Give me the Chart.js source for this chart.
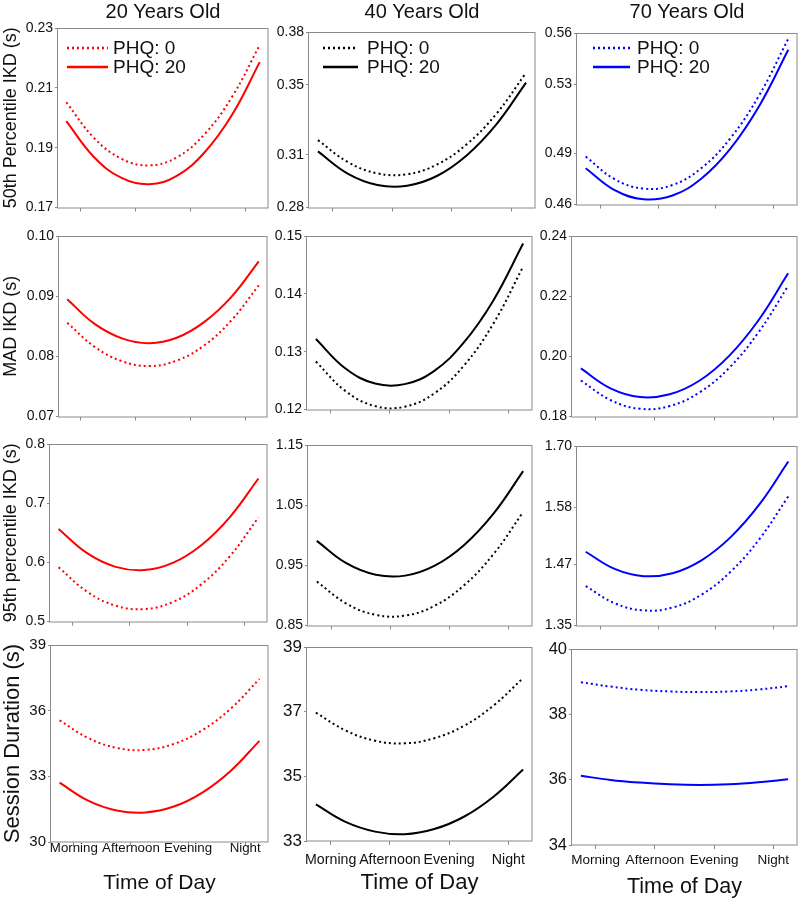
<!DOCTYPE html>
<html>
<head>
<meta charset="utf-8">
<script src="https://cdn.jsdelivr.net/npm/chart.js@4.4.1/dist/chart.umd.min.js"></script>
<style>
body { margin: 0; background: #fff; }
#wrap { position: relative; width: 800px; height: 902px; overflow: hidden; }
#wrap canvas { position: absolute; }
</style>
</head>
<body>
<div id="wrap"></div>
<script>
var timeLabels = ['Morning', 'Afternoon', 'Evening', 'Night'];
var timeX = [-0.25, 0.25, 0.75, 1.25, 1.75, 2.25, 2.75, 3.25];
var ageTitles = ['20 Years Old', '40 Years Old', '70 Years Old'];
var measureTitles = ['50th Percentile IKD (s)', 'MAD IKD (s)', '95th percentile IKD (s)', 'Session Duration (s)'];
var seriesNames = ['PHQ: 0', 'PHQ: 20'];
var ageColors = ['#ff0000', '#000000', '#0000ff'];

// 50th percentile IKD
var median20Phq0 = [0.2052, 0.1933, 0.1863, 0.1841, 0.1868, 0.1945, 0.2070, 0.2243];
var median20Phq20 = [0.1989, 0.1869, 0.1799, 0.1778, 0.1806, 0.1884, 0.2010, 0.2186];
var median40Phq0 = [0.3184, 0.3060, 0.2995, 0.2990, 0.3045, 0.3160, 0.3334, 0.3568];
var median40Phq20 = [0.3120, 0.2994, 0.2929, 0.2925, 0.2980, 0.3097, 0.3274, 0.3512];
var median70Phq0 = [0.4880, 0.4748, 0.4693, 0.4714, 0.4813, 0.4987, 0.5239, 0.5567];
var median70Phq20 = [0.4812, 0.4684, 0.4631, 0.4653, 0.4752, 0.4926, 0.5176, 0.5502];
// MAD IKD
var mad20Phq0 = [0.0856, 0.0816, 0.0792, 0.0784, 0.0793, 0.0818, 0.0860, 0.0918];
var mad20Phq20 = [0.0895, 0.0854, 0.0830, 0.0822, 0.0831, 0.0857, 0.0899, 0.0958];
var mad40Phq0 = [0.1283, 0.1232, 0.1206, 0.1205, 0.1228, 0.1276, 0.1349, 0.1447];
var mad40Phq20 = [0.1322, 0.1271, 0.1245, 0.1244, 0.1267, 0.1316, 0.1389, 0.1487];
var mad70Phq0 = [0.1920, 0.1855, 0.1826, 0.1835, 0.1880, 0.1961, 0.2080, 0.2234];
var mad70Phq20 = [0.1960, 0.1894, 0.1865, 0.1874, 0.1919, 0.2001, 0.2120, 0.2276];
// 95th percentile IKD
var p95_20Phq0 = [0.5919, 0.5505, 0.5269, 0.5211, 0.5331, 0.5629, 0.6105, 0.6759];
var p95_20Phq20 = [0.6566, 0.6157, 0.5925, 0.5870, 0.5992, 0.6290, 0.6765, 0.7417];
var p95_40Phq0 = [0.9232, 0.8867, 0.8678, 0.8666, 0.8830, 0.9172, 0.9691, 1.0387];
var p95_40Phq20 = [0.9908, 0.9536, 0.9344, 0.9330, 0.9496, 0.9840, 1.0364, 1.1067];
var p95_70Phq0 = [1.4271, 1.3936, 1.3797, 1.3852, 1.4102, 1.4547, 1.5185, 1.6018];
var p95_70Phq20 = [1.4939, 1.4604, 1.4464, 1.4520, 1.4772, 1.5219, 1.5861, 1.6699];
// session duration
var session20Phq0 = [35.56, 34.75, 34.30, 34.21, 34.48, 35.11, 36.10, 37.45];
var session20Phq20 = [32.71, 31.89, 31.44, 31.35, 31.62, 32.26, 33.26, 34.62];
var session40Phq0 = [36.97, 36.42, 36.10, 36.02, 36.18, 36.56, 37.19, 38.04];
var session40Phq20 = [34.13, 33.59, 33.29, 33.21, 33.37, 33.75, 34.37, 35.21];
var session70Phq0 = [38.98, 38.85, 38.75, 38.70, 38.68, 38.70, 38.76, 38.86];
var session70Phq20 = [36.12, 35.99, 35.91, 35.86, 35.84, 35.86, 35.92, 36.01];

// y tick labels (bottom to top)
var ticksMedian20 = ['0.17', '0.19', '0.21', '0.23'];
var ticksMedian40 = ['0.28', '0.31', '0.35', '0.38'];
var ticksMedian70 = ['0.46', '0.49', '0.53', '0.56'];
var ticksMad20 = ['0.07', '0.08', '0.09', '0.10'];
var ticksMad40 = ['0.12', '0.13', '0.14', '0.15'];
var ticksMad70 = ['0.18', '0.20', '0.22', '0.24'];
var ticksP95_20 = ['0.5', '0.6', '0.7', '0.8'];
var ticksP95_40 = ['0.85', '0.95', '1.05', '1.15'];
var ticksP95_70 = ['1.35', '1.47', '1.58', '1.70'];
var ticksSession20 = ['30', '33', '36', '39'];
var ticksSession40 = ['33', '35', '37', '39'];
var ticksSession70 = ['34', '36', '38', '40'];

var panelData = [
    [[median20Phq0, median20Phq20, ticksMedian20], [median40Phq0, median40Phq20, ticksMedian40], [median70Phq0, median70Phq20, ticksMedian70]],
    [[mad20Phq0, mad20Phq20, ticksMad20], [mad40Phq0, mad40Phq20, ticksMad40], [mad70Phq0, mad70Phq20, ticksMad70]],
    [[p95_20Phq0, p95_20Phq20, ticksP95_20], [p95_40Phq0, p95_40Phq20, ticksP95_40], [p95_70Phq0, p95_70Phq20, ticksP95_70]],
    [[session20Phq0, session20Phq20, ticksSession20], [session40Phq0, session40Phq20, ticksSession40], [session70Phq0, session70Phq20, ticksSession70]]
];

// plot boxes on the page: left, top, right, bottom
var plotAreas = [
    [[58, 28, 268, 208], [309, 32, 535, 208], [577, 33, 797, 205]],
    [[59, 236, 267, 417], [307, 236, 532, 410], [572, 236, 797, 417]],
    [[50, 444, 267, 622], [308, 445, 532, 626], [577, 446, 797, 626]],
    [[51, 645, 268, 842], [307, 647, 532, 841], [572, 649, 797, 845]]
];
var legendPlaces = [[9, 50, 55, 20, 39], [14, 49, 58, 16, 35], [16, 53, 60, 15, 34]];
var xLabelPad = [-4, 8, 5];
var xLabelSize = [13.3, 14.2, 13.5];
var xTitleSize = [21, 22, 21.5];
var xTitlePad = [6, 6, 2];
var bottomTickSize = [15, 17, 16.5];

Chart.defaults.font.family = '"Liberation Sans", Arial, sans-serif';
Chart.defaults.color = '#111';

var frameColor = '#8a8a8a';

var panelDeco = {
    id: 'panelDeco',
    beforeDatasetsDraw(chart) {
        var a = chart.chartArea, ctx = chart.ctx;
        ctx.save();
        ctx.strokeStyle = frameColor;
        ctx.lineWidth = 1;
        ctx.strokeRect(Math.round(a.left) - 0.5, Math.round(a.top) + 0.5, Math.round(a.right - a.left) + 0.5, Math.round(a.bottom - a.top) - 0.5);
        ctx.restore();
    },
    afterDraw(chart, args, opts) {
        var a = chart.chartArea, ctx = chart.ctx;
        if (!opts.title) return;
        ctx.save();
        ctx.fillStyle = '#111';
        ctx.textBaseline = 'middle';
        ctx.textAlign = 'center';
        ctx.font = '20px "Liberation Sans", Arial, sans-serif';
        ctx.fillText(opts.title, (a.left + a.right) / 2, 12);
        var lp = opts.legend;
        ctx.textAlign = 'left';
        ctx.font = '19px "Liberation Sans", Arial, sans-serif';
        chart.data.datasets.forEach(function (ds, i) {
            var y = a.top + (i === 0 ? lp[3] : lp[4]);
            ctx.strokeStyle = ds.borderColor;
            ctx.lineWidth = 2.5;
            ctx.setLineDash(ds.borderDash || []);
            ctx.beginPath();
            ctx.moveTo(a.left + lp[0], y);
            ctx.lineTo(a.left + lp[1], y);
            ctx.stroke();
            ctx.setLineDash([]);
            ctx.fillText(ds.label, a.left + lp[2], y + 1);
        });
        ctx.restore();
    }
};

function toPoints(values) {
    var pts = [];
    for (var i = 0; i < values.length; i++) {
        pts.push({ x: timeX[i], y: values[i] });
    }
    return pts;
}

function makePanel(row, col) {
    var area = plotAreas[row][col];
    var vals = panelData[row][col];
    var yLabels = vals[2];
    var yValues = yLabels.map(function (t) { return parseFloat(t); });
    var color = ageColors[col];

    var cLeft = col === 0 ? 0 : area[0] - 44;
    var cTop = row === 0 ? 0 : area[1] - 14;
    var cRight = col === 2 ? 800 : area[2] + 4;
    var cBottom = row === 3 ? 902 : area[3] + 10;

    var canvas = document.createElement('canvas');
    canvas.width = cRight - cLeft;
    canvas.height = cBottom - cTop;
    canvas.style.left = cLeft + 'px';
    canvas.style.top = cTop + 'px';
    canvas.style.width = (cRight - cLeft) + 'px';
    canvas.style.height = (cBottom - cTop) + 'px';
    document.getElementById('wrap').appendChild(canvas);

    var isBottom = row === 3;

    new Chart(canvas.getContext('2d'), {
        type: 'line',
        data: {
            datasets: [{
                label: seriesNames[0],
                data: toPoints(vals[0]),
                borderColor: color,
                borderWidth: 2,
                borderDash: [2, 3],
                fill: false
            }, {
                label: seriesNames[1],
                data: toPoints(vals[1]),
                borderColor: color,
                borderWidth: 2,
                fill: false
            }]
        },
        options: {
            responsive: false,
            animation: false,
            devicePixelRatio: 1,
            layout: { padding: { top: area[1] - cTop, right: cRight - area[2], left: 0, bottom: 0 } },
            elements: { point: { radius: 0 }, line: { tension: 0.4 } },
            plugins: {
                legend: { display: false },
                tooltip: { enabled: false },
                panelDeco: row === 0 ? { title: ageTitles[col], legend: legendPlaces[col] } : {}
            },
            scales: {
                x: {
                    type: 'linear',
                    min: -0.4,
                    max: 3.4,
                    border: { display: false },
                    grid: { display: true, drawOnChartArea: false, drawTicks: true, tickLength: 4, tickColor: frameColor },
                    ticks: {
                        display: isBottom,
                        autoSkip: false,
                        maxRotation: 0,
                        padding: xLabelPad[col],
                        font: { size: xLabelSize[col], lineHeight: 1 },
                        color: '#111',
                        callback: function (v, i) { return timeLabels[i]; }
                    },
                    title: {
                        display: isBottom,
                        text: 'Time of Day',
                        color: '#111',
                        font: { size: xTitleSize[col] },
                        padding: { top: 0, bottom: xTitlePad[col] }
                    },
                    afterBuildTicks: function (axis) {
                        axis.ticks = timeLabels.map(function (t, i) { return { value: i }; });
                    },
                    afterFit: function (axis) { axis.height = cBottom - area[3]; }
                },
                y: {
                    type: 'linear',
                    min: yValues[0],
                    max: yValues[yValues.length - 1],
                    border: { display: false },
                    grid: { display: true, drawOnChartArea: false, drawTicks: true, tickLength: 3, tickColor: frameColor },
                    ticks: {
                        padding: 2,
                        font: { size: isBottom ? bottomTickSize[col] : 14 },
                        color: '#111',
                        callback: function (v, i) { return yLabels[i]; }
                    },
                    title: {
                        display: col === 0,
                        text: measureTitles[row],
                        color: '#111',
                        font: { size: isBottom ? 22 : 18 },
                        padding: { top: 0, bottom: 0 }
                    },
                    afterBuildTicks: function (axis) {
                        axis.ticks = yValues.map(function (v) { return { value: v }; });
                    },
                    afterFit: function (axis) { axis.width = area[0] - cLeft; }
                }
            }
        },
        plugins: [panelDeco]
    });
}

for (var r = 0; r < 4; r++) {
    for (var c = 0; c < 3; c++) {
        makePanel(r, c);
    }
}
</script>
</body>
</html>
